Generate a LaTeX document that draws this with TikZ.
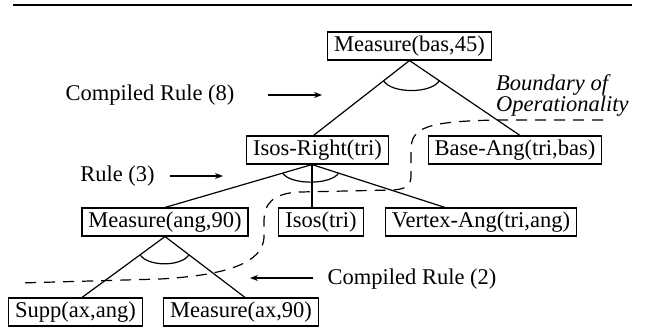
\documentclass[tikz,border=0pt]{standalone}
\usepackage{fontspec}
\setmainfont{Liberation Serif}
\usetikzlibrary{calc,arrows.meta}
\begin{document}
\begin{tikzpicture}[x=1pt,y=-1pt,
  box/.style={draw, line width=1.1pt, inner xsep=6.5pt, inner ysep=4pt,
    text height=15.5pt, text depth=4.5pt, font=\fontsize{22.5}{26}\selectfont},
  lbl/.style={font=\fontsize{22.5}{26}\selectfont, inner sep=0pt},
  edge/.style={line width=1.2pt},
  ptr/.style={line width=1.1pt, -{Stealth[length=8pt,width=6pt]}},
  bound/.style={line width=1.2pt, dash pattern=on 11pt off 8pt}]
\useasboundingbox (0,0) rectangle (645,333);

% top rule
\coordinate (r1) at (13,5);
\coordinate (r2) at (632,5);
\draw[line width=2pt] (r1) -- (r2);

% nodes
\node[box] (m45)  at (409.5,46)  {Measure(bas,45)};
\node[box] (isr)  at (317.5,150) {Isos-Right(tri)};
\node[box] (base) at (515,150)   {Base-Ang(tri,bas)};
\node[box] (m90)  at (165,222)   {Measure(ang,90)};
\node[box] (isos) at (321,222)   {Isos(tri)};
\node[box] (vert) at (481,222)   {Vertex-Ang(tri,ang)};
\node[box] (supp) at (75.5,312)  {Supp(ax,ang)};
\node[box] (max)  at (241,312)   {Measure(ax,90)};

\coordinate (isrT)  at ([xshift=-4pt]isr.north);
\coordinate (isrB)  at ([xshift=-5.5pt]isr.south);
\coordinate (baseT) at ([xshift=5pt]base.north);
\coordinate (vertT) at ([xshift=-36pt]vert.north);
\coordinate (suppT) at ([xshift=6.5pt]supp.north);
\coordinate (maxT)  at ([xshift=4pt]max.north);
\coordinate (isosT) at (isrB |- isos.north);

% tree edges
\draw[edge] (m45.south) -- (isrT);
\draw[edge] (m45.south) -- (baseT);
\draw[edge] (isrB) -- (m90.north);
\draw[edge] (isrB) -- (isosT);
\draw[edge] (isrB) -- (vertT);
\draw[edge] (m90.south) -- (suppT);
\draw[edge] (m90.south) -- (maxT);

% conjunction arcs
\draw[edge] ($(m45.south)!0.27!(isrT)$) .. controls +(8,13) and +(-8,13) .. ($(m45.south)!0.27!(baseT)$);
\draw[edge] ($(isrB)!0.2!(m90.north)$) .. controls +(8,12) and +(-8,12) .. ($(isrB)!0.2!(vertT)$);
\draw[edge] ($(m90.south)!0.3!(suppT)$) .. controls +(8,12) and +(-8,12) .. ($(m90.south)!0.3!(maxT)$);

% labels and pointers
\node[lbl] (c8) at (150,95) {Compiled Rule (8)};
\coordinate (c8a) at (268,95);
\coordinate (c8b) at (322,95);
\draw[ptr] (c8a) -- (c8b);

\node[lbl] (r3) at (117.5,176) {Rule (3)};
\coordinate (r3a) at (170,176);
\coordinate (r3b) at (223,176);
\draw[ptr] (r3a) -- (r3b);

\node[lbl] (c2) at (412,279) {Compiled Rule (2)};
\coordinate (c2a) at (313,278);
\coordinate (c2b) at (250,278);
\draw[ptr] (c2a) -- (c2b);

\node[lbl, align=left, anchor=north west, font=\fontsize{22.5}{18}\selectfont\itshape] (bo) at (496,74) {Boundary of\\Operationality};

% boundary of operationality
\draw[bound] (603,120) -- (500,120) .. controls (425,121) and (411,128) .. (411,150)
  -- (411,176) .. controls (411,186) and (405,189.5) .. (392,190)
  -- (300,192) .. controls (272,193) and (264,205) .. (264,220)
  -- (264,238) .. controls (262,262) and (230,275) .. (160,279)
  -- (20,283);
\end{tikzpicture}
\end{document}
